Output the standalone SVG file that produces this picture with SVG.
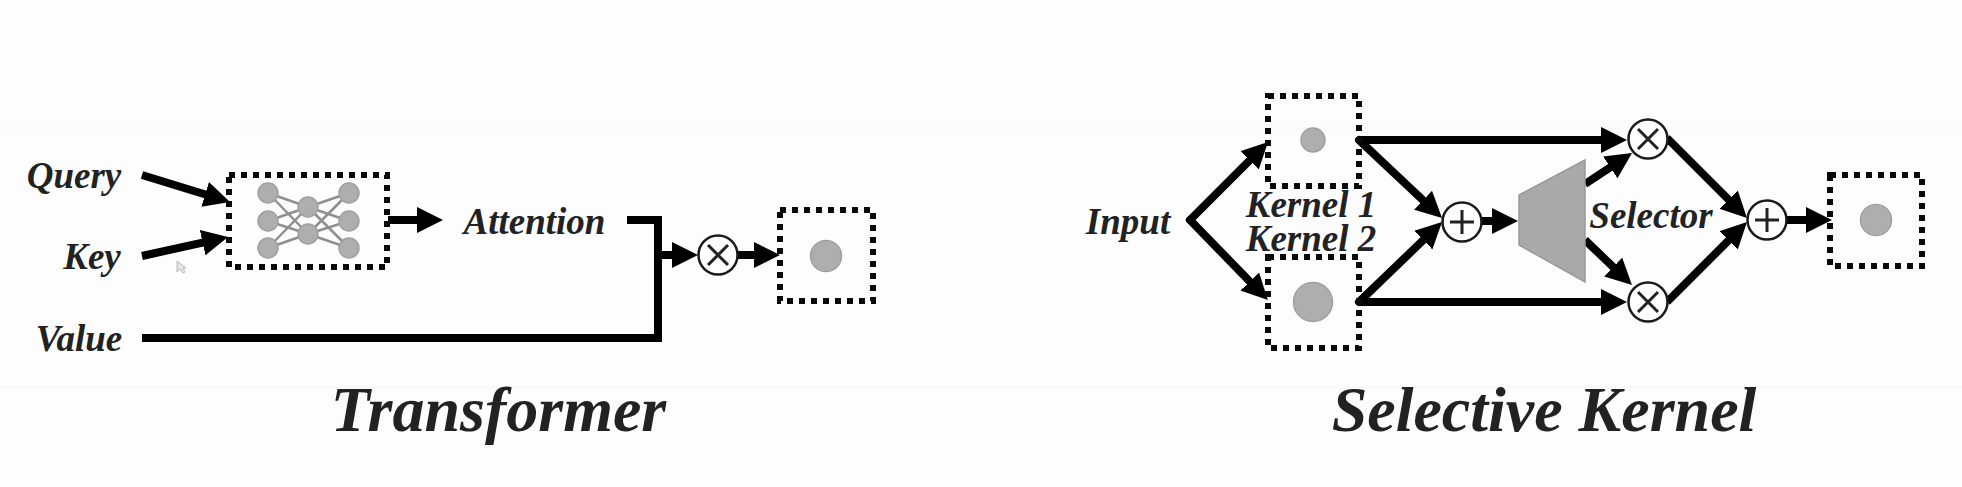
<svg xmlns="http://www.w3.org/2000/svg" width="1962" height="487" viewBox="0 0 1962 487">
<style>
text{font-family:"Liberation Serif","Times New Roman",serif;font-weight:bold;font-style:italic;fill:#222;text-anchor:middle}
.lb{font-size:37px}
.ti{font-size:64px}
.box{fill:none;stroke:#0a0a0a;stroke-width:6;stroke-dasharray:6 6}
.dot{fill:#aeaeae;stroke:#a0a0a0;stroke-width:1.5}
.op{fill:#fff;stroke:#1a1a1a;stroke-width:2.5}
.sym{stroke:#222;stroke-width:3;fill:none}
.net{stroke:#8f8f8f;stroke-width:2.5;fill:none}
.c{stroke:#000;stroke-width:8;fill:none}
.a{marker-end:url(#ah)}
.r{stroke-linecap:round}
</style>
<defs>
<marker id="ah" markerUnits="userSpaceOnUse" markerWidth="28" markerHeight="28" refX="14" refY="13" orient="auto"><path d="M0,0 L26,13 L0,26 Z" fill="#000"/></marker>
</defs>
<rect width="1962" height="487" fill="#fdfdfd"/>
<path d="M0,128H1962M0,387H1962" stroke="#f6f6f6" stroke-width="1.5" fill="none"/>
<path id="pointer" d="M177,261 L177,272 L180,269 L183,273 L185,272 L183,268 L186,268 Z" fill="#e4e4e4" stroke="#bbb"/>

<g id="connectors">
<line class="c a" x1="142" y1="175" x2="218.5" y2="198.5"/>
<line class="c a" x1="142" y1="256" x2="216.3" y2="239.6"/>
<line class="c a" x1="388" y1="220" x2="431" y2="220"/>
<path class="c" d="M627,220H658V338H142"/>
<line class="c a" x1="658" y1="255" x2="686" y2="255"/>
<line class="c a" x1="738" y1="255" x2="768" y2="255"/>
<line class="c a r" x1="1190" y1="220" x2="1259.5" y2="150.5"/>
<line class="c a r" x1="1190" y1="220" x2="1259.5" y2="291.5"/>
<line class="c a" x1="1359" y1="140" x2="1615" y2="140"/>
<line class="c a r" x1="1359" y1="140" x2="1433.3" y2="209.8"/>
<line class="c a r" x1="1359" y1="302" x2="1433.4" y2="230.3"/>
<line class="c a" x1="1359" y1="302" x2="1615" y2="302"/>
<line class="c a" x1="1482" y1="221" x2="1506" y2="221"/>
<line class="c a" x1="1585" y1="184" x2="1622" y2="159.6"/>
<line class="c a" x1="1585" y1="240" x2="1623.3" y2="276.7"/>
<line class="c a" x1="1667" y1="138" x2="1738.5" y2="209.5"/>
<line class="c a" x1="1667" y1="302" x2="1738.5" y2="230.5"/>
<line class="c a" x1="1787" y1="220" x2="1820" y2="220"/>
</g>

<g id="query"><text class="lb" x="74" y="188">Query</text></g>
<g id="key"><text class="lb" x="92" y="269">Key</text></g>
<g id="value"><text class="lb" x="79" y="351">Value</text></g>
<g id="attention-net">
<rect class="box" x="229" y="175" width="158" height="92"/>
<path class="net" d="M268,193L308,207M268,193L308,234M268,221L308,207M268,221L308,234M268,248L308,207M268,248L308,234M349,193L308,207M349,193L308,234M349,221L308,207M349,221L308,234M349,248L308,207M349,248L308,234"/>
<circle class="dot" cx="268" cy="193" r="10"/><circle class="dot" cx="268" cy="221" r="10"/><circle class="dot" cx="268" cy="248" r="10"/>
<circle class="dot" cx="308" cy="207" r="10"/><circle class="dot" cx="308" cy="234" r="10"/>
<circle class="dot" cx="349" cy="193" r="10"/><circle class="dot" cx="349" cy="221" r="10"/><circle class="dot" cx="349" cy="248" r="10"/>
</g>
<g id="attention"><text class="lb" x="534.5" y="234">Attention</text></g>
<g id="mul-t"><circle class="op" cx="718" cy="255" r="19.5"/><path class="sym" d="M708,245L728,265M728,245L708,265"/></g>
<g id="out-t"><rect class="box" x="780" y="210" width="93" height="91"/><circle class="dot" cx="826" cy="256" r="15.5"/></g>
<g id="transformer-title"><text class="ti" x="498.5" y="431">Transformer</text></g>

<g id="input"><text class="lb" x="1128" y="234">Input</text></g>
<g id="kernel1-box"><rect class="box" x="1268" y="96" width="91" height="90"/><circle class="dot" cx="1313" cy="140" r="12"/></g>
<g id="kernel2-box"><rect class="box" x="1268" y="257" width="91" height="91"/><circle class="dot" cx="1313" cy="302" r="19.5"/></g>
<g id="kernel1"><text class="lb" x="1311" y="217">Kernel 1</text></g>
<g id="kernel2"><text class="lb" x="1311" y="251">Kernel 2</text></g>
<g id="add-1"><circle class="op" cx="1462" cy="222" r="19.5"/><path class="sym" d="M1450,222H1474M1462,210V234"/></g>
<g id="selector-shape"><polygon points="1519,195 1585,160 1585,282 1519,245" fill="#a9a9a9" stroke="#999" stroke-width="1.5"/></g>
<g id="selector"><text class="lb" x="1651" y="228">Selector</text></g>
<g id="mul-1"><circle class="op" cx="1648" cy="139" r="19.5"/><path class="sym" d="M1638,129L1658,149M1658,129L1638,149"/></g>
<g id="mul-2"><circle class="op" cx="1648" cy="302" r="19.5"/><path class="sym" d="M1638,292L1658,312M1658,292L1638,312"/></g>
<g id="add-2"><circle class="op" cx="1767" cy="220" r="19.5"/><path class="sym" d="M1755,220H1779M1767,208V232"/></g>
<g id="out-s"><rect class="box" x="1830" y="175" width="92" height="91"/><circle class="dot" cx="1876" cy="220" r="15.5"/></g>
<g id="sk-title"><text class="ti" x="1544" y="431">Selective Kernel</text></g>
</svg>
